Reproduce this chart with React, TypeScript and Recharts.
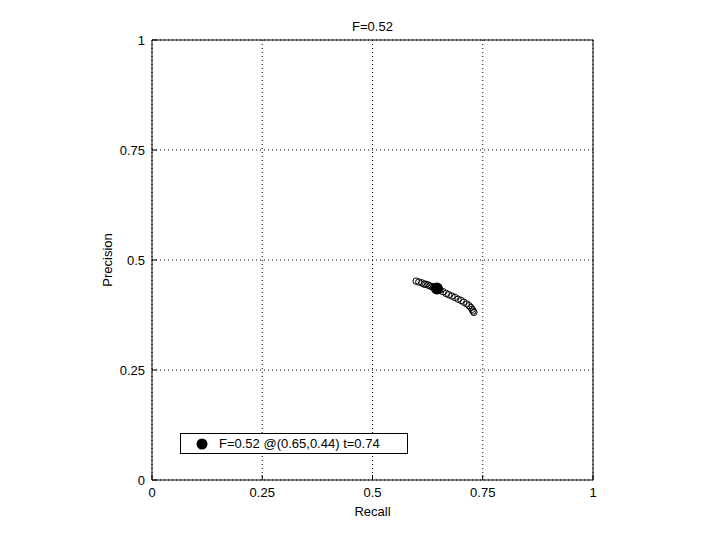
import React from 'react';
import {
  ScatterChart,
  Scatter,
  XAxis,
  YAxis,
  CartesianGrid,
  ReferenceArea,
  Legend,
} from 'recharts';

// precision/recall curve
const recall = [
  0.599, 0.605, 0.612, 0.617, 0.621, 0.626, 0.63, 0.635, 0.639, 0.646, 0.653, 0.66,
  0.667, 0.673, 0.68, 0.687, 0.694, 0.701, 0.707, 0.714, 0.719, 0.723, 0.726, 0.728, 0.73,
];
const precision = [
  0.452, 0.45, 0.448, 0.445, 0.445, 0.443, 0.441, 0.439, 0.439, 0.436, 0.432, 0.428,
  0.424, 0.421, 0.418, 0.415, 0.411, 0.408, 0.404, 0.4, 0.396, 0.392, 0.388, 0.384, 0.381,
];

// best F point
const bestRecall = [0.646];
const bestPrecision = [0.435];
const bestF = '0.52';
const bestLabel = '@(0.65,0.44)';
const bestT = '0.74';

const ticks = [0, 0.25, 0.5, 0.75, 1];
const tickLabels = ['0', '0.25', '0.5', '0.75', '1'];

const FONT = '"Liberation Sans", Arial, Helvetica, sans-serif';
const TICK_LEN = 5;

const curve = recall.map((r, i) => ({ x: r, y: precision[i] }));
const best = bestRecall.map((r, i) => ({ x: r, y: bestPrecision[i] }));

const labelOf = (v: number) => tickLabels[ticks.indexOf(v)] ?? String(v);

const BottomTick = ({ x, y, payload }: any) => (
  <g>
    <line x1={x} x2={x} y1={y} y2={y - TICK_LEN} stroke="#000" />
    <text x={x} y={y + 17} textAnchor="middle" fontSize={13} fontFamily={FONT} fill="#000">
      {labelOf(payload.value)}
    </text>
  </g>
);

const TopTick = ({ x, y }: any) => (
  <line x1={x} x2={x} y1={y} y2={y + TICK_LEN} stroke="#000" />
);

const LeftTick = ({ x, y, payload }: any) => (
  <g>
    <line x1={x} x2={x + TICK_LEN} y1={y} y2={y} stroke="#000" />
    <text x={x - 7} y={y + 5} textAnchor="end" fontSize={13} fontFamily={FONT} fill="#000">
      {labelOf(payload.value)}
    </text>
  </g>
);

const RightTick = ({ x, y }: any) => (
  <line x1={x} x2={x - TICK_LEN} y1={y} y2={y} stroke="#000" />
);

const OpenDot = (props: any) => (
  <circle cx={props.cx} cy={props.cy} r={3.2} fill="none" stroke="#000" strokeWidth={1} />
);

const BigDot = (props: any) => <circle cx={props.cx} cy={props.cy} r={6} fill="#000" />;

const LegendBox = () => (
  <div
    style={{
      width: 226,
      height: 19,
      border: '1px solid #000',
      background: '#fff',
      display: 'flex',
      alignItems: 'center',
      fontFamily: FONT,
      fontSize: 13,
      color: '#000',
      boxSizing: 'content-box',
    }}
  >
    <svg width={38} height={19}>
      <circle cx={21} cy={10} r={5.5} fill="#000" />
    </svg>
    <span>{`F=${bestF} ${bestLabel} t=${bestT}`}</span>
  </div>
);

export default function App() {
  return (
    <div style={{ position: 'absolute', left: 0, top: 0, width: 720, height: 540, background: '#fff' }}>
      <ScatterChart width={720} height={540} margin={{ top: 0, right: 126, bottom: 0, left: 62 }}>
        <CartesianGrid stroke="#000" strokeDasharray="1 3" />
        <XAxis
          type="number"
          dataKey="x"
          domain={[0, 1]}
          ticks={ticks}
          interval={0}
          height={60}
          tickSize={0}
          tickMargin={0}
          axisLine={false}
          tick={<BottomTick />}
          label={{ value: 'Recall', position: 'center', dy: 1, fontSize: 13, fontFamily: FONT, fill: '#000' }}
        />
        <XAxis
          xAxisId="top"
          orientation="top"
          type="number"
          dataKey="x"
          domain={[0, 1]}
          ticks={ticks}
          interval={0}
          height={40}
          tickSize={0}
          tickMargin={0}
          axisLine={false}
          tick={<TopTick />}
          label={{ value: `F=${bestF}`, position: 'insideBottom', offset: 9, fontSize: 13, fontFamily: FONT, fill: '#000' }}
        />
        <YAxis
          type="number"
          dataKey="y"
          domain={[0, 1]}
          ticks={ticks}
          interval={0}
          width={90}
          tickSize={0}
          tickMargin={0}
          axisLine={false}
          tick={<LeftTick />}
          label={{ value: 'Precision', angle: -90, position: 'center', fontSize: 13, fontFamily: FONT, fill: '#000' }}
        />
        <YAxis
          yAxisId="right"
          orientation="right"
          type="number"
          dataKey="y"
          domain={[0, 1]}
          ticks={ticks}
          interval={0}
          width={1}
          tickSize={0}
          tickMargin={0}
          axisLine={false}
          tick={<RightTick />}
        />
        <ReferenceArea x1={0} x2={1} y1={0} y2={1} fill="none" stroke="#000" strokeWidth={1} ifOverflow="visible" />
        <Legend
          layout="vertical"
          align="center"
          verticalAlign="middle"
          content={<LegendBox />}
          wrapperStyle={{ position: 'absolute', left: 180, top: 433, width: 'auto' }}
        />
        <Scatter data={curve} shape={<OpenDot />} isAnimationActive={false} legendType="none" />
        <Scatter data={best} shape={<BigDot />} isAnimationActive={false} legendType="none" />
      </ScatterChart>
    </div>
  );
}
